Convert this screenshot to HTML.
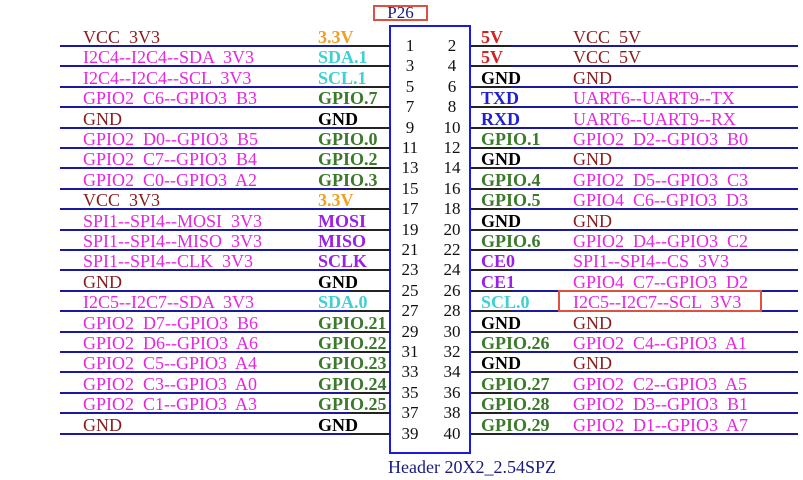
<!DOCTYPE html>
<html><head><meta charset="utf-8"><style>
body{margin:0;width:803px;height:480px;background:#fff;position:relative;overflow:hidden;font-family:"Liberation Serif",serif;}
.r{position:absolute;left:0;width:803px;height:20px;}
.l1{position:absolute;left:60px;width:290px;height:2px;background:#1a1aa0;bottom:0}
.l2{position:absolute;left:350px;width:40px;height:2px;background:#222;bottom:0}
.l3{position:absolute;left:471px;width:40px;height:2px;background:#222;bottom:0}
.l4{position:absolute;left:511px;width:287px;height:2px;background:#1a1aa0;bottom:0}
.t{position:absolute;bottom:1px;font-size:18px;line-height:18px;white-space:pre;}
.a{left:83px}.b{left:318px;font-weight:bold}.c{left:481px;font-weight:bold}.d{left:573px}
.vr{color:#8b1a1a}.m{color:#e626e0}.cy{color:#3fd0d6}.g{color:#3a7a2a}.o{color:#f0a020}.k{color:#000}.rd{color:#d42020}.bl{color:#2020d0}.p{color:#9a22e6}
.n{position:absolute;font-size:17px;line-height:18px;color:#111;width:26px;text-align:center}
</style></head><body>
<div style="position:absolute;left:373px;top:5px;width:55px;height:16px;border:2px solid #e05040;box-sizing:border-box;"></div>
<div style="position:absolute;left:373px;top:4px;width:55px;text-align:center;font-size:17px;line-height:17px;color:#1a1a80">P26</div>
<div style="position:absolute;left:389px;top:25px;width:82px;height:429px;border:2px solid #1a1ae0;box-sizing:border-box;"></div>
<div style="position:absolute;left:388px;top:457px;font-size:18px;line-height:20px;color:#1a1a80">Header 20X2_2.54SPZ</div>

<div class="r" style="top:27px"><div class="l1"></div><div class="l2"></div><div class="l3"></div><div class="l4"></div><span class="t a vr">VCC  3V3</span><span class="t b o">3.3V</span><span class="t c rd">5V</span><span class="t d vr">VCC  5V</span></div>
<div class="r" style="top:47.4px"><div class="l1"></div><div class="l2"></div><div class="l3"></div><div class="l4"></div><span class="t a m">I2C4--I2C4--SDA  3V3</span><span class="t b cy">SDA.1</span><span class="t c rd">5V</span><span class="t d vr">VCC  5V</span></div>
<div class="r" style="top:67.8px"><div class="l1"></div><div class="l2"></div><div class="l3"></div><div class="l4"></div><span class="t a m">I2C4--I2C4--SCL  3V3</span><span class="t b cy">SCL.1</span><span class="t c k">GND</span><span class="t d vr">GND</span></div>
<div class="r" style="top:88.2px"><div class="l1"></div><div class="l2"></div><div class="l3"></div><div class="l4"></div><span class="t a m">GPIO2  C6--GPIO3  B3</span><span class="t b g">GPIO.7</span><span class="t c bl">TXD</span><span class="t d m">UART6--UART9--TX</span></div>
<div class="r" style="top:108.6px"><div class="l1"></div><div class="l2"></div><div class="l3"></div><div class="l4"></div><span class="t a vr">GND</span><span class="t b k">GND</span><span class="t c bl">RXD</span><span class="t d m">UART6--UART9--RX</span></div>
<div class="r" style="top:129px"><div class="l1"></div><div class="l2"></div><div class="l3"></div><div class="l4"></div><span class="t a m">GPIO2  D0--GPIO3  B5</span><span class="t b g">GPIO.0</span><span class="t c g">GPIO.1</span><span class="t d m">GPIO2  D2--GPIO3  B0</span></div>
<div class="r" style="top:149.4px"><div class="l1"></div><div class="l2"></div><div class="l3"></div><div class="l4"></div><span class="t a m">GPIO2  C7--GPIO3  B4</span><span class="t b g">GPIO.2</span><span class="t c k">GND</span><span class="t d vr">GND</span></div>
<div class="r" style="top:169.8px"><div class="l1"></div><div class="l2"></div><div class="l3"></div><div class="l4"></div><span class="t a m">GPIO2  C0--GPIO3  A2</span><span class="t b g">GPIO.3</span><span class="t c g">GPIO.4</span><span class="t d m">GPIO2  D5--GPIO3  C3</span></div>
<div class="r" style="top:190.2px"><div class="l1"></div><div class="l2"></div><div class="l3"></div><div class="l4"></div><span class="t a vr">VCC  3V3</span><span class="t b o">3.3V</span><span class="t c g">GPIO.5</span><span class="t d m">GPIO4  C6--GPIO3  D3</span></div>
<div class="r" style="top:210.6px"><div class="l1"></div><div class="l2"></div><div class="l3"></div><div class="l4"></div><span class="t a m">SPI1--SPI4--MOSI  3V3</span><span class="t b p">MOSI</span><span class="t c k">GND</span><span class="t d vr">GND</span></div>
<div class="r" style="top:231px"><div class="l1"></div><div class="l2"></div><div class="l3"></div><div class="l4"></div><span class="t a m">SPI1--SPI4--MISO  3V3</span><span class="t b p">MISO</span><span class="t c g">GPIO.6</span><span class="t d m">GPIO2  D4--GPIO3  C2</span></div>
<div class="r" style="top:251.4px"><div class="l1"></div><div class="l2"></div><div class="l3"></div><div class="l4"></div><span class="t a m">SPI1--SPI4--CLK  3V3</span><span class="t b p">SCLK</span><span class="t c p">CE0</span><span class="t d m">SPI1--SPI4--CS  3V3</span></div>
<div class="r" style="top:271.8px"><div class="l1"></div><div class="l2"></div><div class="l3"></div><div class="l4"></div><span class="t a vr">GND</span><span class="t b k">GND</span><span class="t c p">CE1</span><span class="t d m">GPIO4  C7--GPIO3  D2</span></div>
<div class="r" style="top:292.2px"><div class="l1"></div><div class="l2"></div><div class="l3"></div><div class="l4"></div><span class="t a m">I2C5--I2C7--SDA  3V3</span><span class="t b cy">SDA.0</span><span class="t c cy">SCL.0</span><span class="t d m">I2C5--I2C7--SCL  3V3</span></div>
<div class="r" style="top:312.6px"><div class="l1"></div><div class="l2"></div><div class="l3"></div><div class="l4"></div><span class="t a m">GPIO2  D7--GPIO3  B6</span><span class="t b g">GPIO.21</span><span class="t c k">GND</span><span class="t d vr">GND</span></div>
<div class="r" style="top:333px"><div class="l1"></div><div class="l2"></div><div class="l3"></div><div class="l4"></div><span class="t a m">GPIO2  D6--GPIO3  A6</span><span class="t b g">GPIO.22</span><span class="t c g">GPIO.26</span><span class="t d m">GPIO2  C4--GPIO3  A1</span></div>
<div class="r" style="top:353.4px"><div class="l1"></div><div class="l2"></div><div class="l3"></div><div class="l4"></div><span class="t a m">GPIO2  C5--GPIO3  A4</span><span class="t b g">GPIO.23</span><span class="t c k">GND</span><span class="t d vr">GND</span></div>
<div class="r" style="top:373.8px"><div class="l1"></div><div class="l2"></div><div class="l3"></div><div class="l4"></div><span class="t a m">GPIO2  C3--GPIO3  A0</span><span class="t b g">GPIO.24</span><span class="t c g">GPIO.27</span><span class="t d m">GPIO2  C2--GPIO3  A5</span></div>
<div class="r" style="top:394.2px"><div class="l1"></div><div class="l2"></div><div class="l3"></div><div class="l4"></div><span class="t a m">GPIO2  C1--GPIO3  A3</span><span class="t b g">GPIO.25</span><span class="t c g">GPIO.28</span><span class="t d m">GPIO2  D3--GPIO3  B1</span></div>
<div class="r" style="top:414.6px"><div class="l1"></div><div class="l2"></div><div class="l3"></div><div class="l4"></div><span class="t a vr">GND</span><span class="t b k">GND</span><span class="t c g">GPIO.29</span><span class="t d m">GPIO2  D1--GPIO3  A7</span></div>

<div style="position:absolute;left:558px;top:290px;width:204px;height:22px;border:2px solid #e05040;box-sizing:border-box;"></div>

<div class="n" style="left:397px;top:37px">1</div><div class="n" style="left:439px;top:37px">2</div>
<div class="n" style="left:397px;top:57.4px">3</div><div class="n" style="left:439px;top:57.4px">4</div>
<div class="n" style="left:397px;top:77.8px">5</div><div class="n" style="left:439px;top:77.8px">6</div>
<div class="n" style="left:397px;top:98.2px">7</div><div class="n" style="left:439px;top:98.2px">8</div>
<div class="n" style="left:397px;top:118.6px">9</div><div class="n" style="left:439px;top:118.6px">10</div>
<div class="n" style="left:397px;top:139px">11</div><div class="n" style="left:439px;top:139px">12</div>
<div class="n" style="left:397px;top:159.4px">13</div><div class="n" style="left:439px;top:159.4px">14</div>
<div class="n" style="left:397px;top:179.8px">15</div><div class="n" style="left:439px;top:179.8px">16</div>
<div class="n" style="left:397px;top:200.2px">17</div><div class="n" style="left:439px;top:200.2px">18</div>
<div class="n" style="left:397px;top:220.6px">19</div><div class="n" style="left:439px;top:220.6px">20</div>
<div class="n" style="left:397px;top:241px">21</div><div class="n" style="left:439px;top:241px">22</div>
<div class="n" style="left:397px;top:261.4px">23</div><div class="n" style="left:439px;top:261.4px">24</div>
<div class="n" style="left:397px;top:281.8px">25</div><div class="n" style="left:439px;top:281.8px">26</div>
<div class="n" style="left:397px;top:302.2px">27</div><div class="n" style="left:439px;top:302.2px">28</div>
<div class="n" style="left:397px;top:322.6px">29</div><div class="n" style="left:439px;top:322.6px">30</div>
<div class="n" style="left:397px;top:343px">31</div><div class="n" style="left:439px;top:343px">32</div>
<div class="n" style="left:397px;top:363.4px">33</div><div class="n" style="left:439px;top:363.4px">34</div>
<div class="n" style="left:397px;top:383.8px">35</div><div class="n" style="left:439px;top:383.8px">36</div>
<div class="n" style="left:397px;top:404.2px">37</div><div class="n" style="left:439px;top:404.2px">38</div>
<div class="n" style="left:397px;top:424.6px">39</div><div class="n" style="left:439px;top:424.6px">40</div>
</body></html>
